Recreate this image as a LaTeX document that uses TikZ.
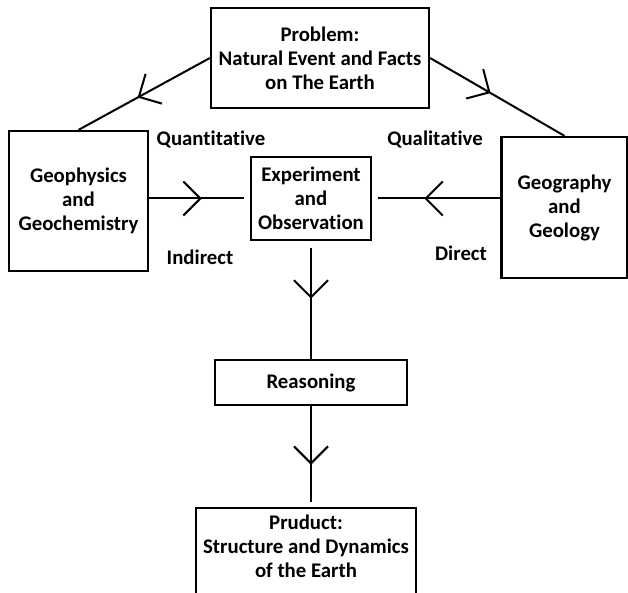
\documentclass[tikz,border=0pt]{standalone}
\usepackage{fontspec}
\setmainfont{Carlito}[Ligatures=NoCommon]
\usetikzlibrary{arrows.meta, decorations.markings}

\begin{document}
\begin{tikzpicture}[
      x=1pt, y=-1pt,
      font=\bfseries\fontsize{20.8}{24}\selectfont,
      box/.style={draw, line width=2.2pt, align=center, inner sep=0pt},
      thinbox/.style={draw, line width=1.1pt, align=center, inner sep=0pt},
      tag/.style={inner sep=0pt},
      flow/.style={line width=2pt, postaction={decorate},
        decoration={markings, mark=at position #1 with
          {\arrow{Straight Barb[length=17pt, width=34pt, line width=2pt]}}}}
    ]
      \useasboundingbox (0,0) rectangle (628,593);
      \clip (0,0) rectangle (628,593);
      \fill[white] (0,0) rectangle (628,593);

      % boxes
      \node[box, minimum width=218pt, minimum height=100pt] (problem) at (320,58)
        {Problem:\\Natural Event and Facts\\on The Earth};
      \node[box, minimum width=139pt, minimum height=140pt] (geophys) at (78.5,201)
        {Geophysics\\and\\Geochemistry};
      \node[box, minimum width=126pt, minimum height=141pt] (geog) at (564.5,207.5)
        {Geography\\and\\Geology};
      \node[thinbox, minimum width=120pt, minimum height=83pt] (exper) at (311,198.5)
        {Experiment\\and\\Observation};
      \node[box, line width=1.8pt, minimum width=192pt, minimum height=45pt] (reason) at (311,382.5)
        {Reasoning};
      \node[thinbox, minimum width=220pt, minimum height=100pt] (product) at (306,558)
        {Pruduct:\\Structure and Dynamics\\of the Earth\\~};

      % labels
      \node[tag] (quant) at (211,140) {Quantitative};
      \node[tag] (qual) at (435,140) {Qualitative};
      \node[tag] (indir) at (200,257) {Indirect};
      \node[tag] (dir) at (461,253) {Direct};

      % connectors
      \draw[flow=0.55] (problem.west) -- (geophys.north);
      \draw[flow=0.45] (problem.east) -- (geog.north);
      \draw[flow=0.52, shorten >=6pt] (geophys.east |- exper.west) -- (exper.west);
      \draw[flow=0.59, shorten >=6pt] (geog.west |- exper.east) -- (exper.east);
      \draw[flow=0.49, shorten <=7pt] (exper.south) -- (reason.north);
      \draw[flow=0.58, shorten >=5pt] (reason.south) -- (reason.south |- product.north);
    \end{tikzpicture}
\end{document}
